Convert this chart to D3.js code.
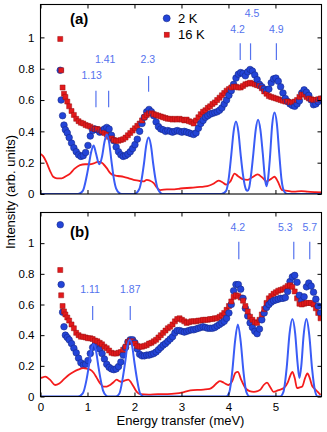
<!DOCTYPE html>
<html><head><meta charset="utf-8">
<script src="https://cdn.jsdelivr.net/npm/d3@7"></script>
<style>
html,body{margin:0;padding:0;background:#fff;}
svg{display:block;font-family:"Liberation Sans",Arial,Helvetica,sans-serif;}
</style></head>
<body><svg id="c" width="327" height="432"></svg>
<script>
// ---- data ----
const energy = [0.42,0.44,0.47,0.50,0.53,0.57,0.61,
0.66,0.71,0.76,0.81,0.86,0.91,0.96,1.01,1.06,1.11,
1.16,1.21,1.26,1.31,1.36,1.41,1.46,1.51,1.56,1.61,
1.66,1.71,1.76,1.81,1.86,1.91,1.96,2.01,2.06,2.11,
2.16,2.21,2.26,2.31,2.36,2.41,2.46,2.51,2.56,2.61,
2.66,2.71,2.76,2.81,2.86,2.91,2.96,3.01,3.06,3.11,
3.16,3.21,3.26,3.31,3.36,3.41,3.46,3.51,3.56,3.61,
3.66,3.71,3.76,3.81,3.86,3.91,3.96,4.01,4.06,4.11,
4.16,4.21,4.26,4.31,4.36,4.41,4.46,4.51,4.56,4.61,
4.66,4.71,4.76,4.81,4.86,4.91,4.96,5.01,5.06,5.11,
5.16,5.21,5.26,5.31,5.36,5.41,5.46,5.51,5.56,5.61,
5.66,5.71,5.76,5.81,5.86,5.91,5.96];

const a2K = [0.79,0.60,0.50,0.44,0.41,0.39,0.36,
0.325,0.295,0.27,0.25,0.24,0.245,0.265,0.31,0.37,0.405,
0.415,0.41,0.395,0.40,0.415,0.425,0.415,0.375,0.34,0.30,
0.27,0.25,0.24,0.245,0.255,0.27,0.29,0.315,0.35,0.40,
0.45,0.49,0.525,0.54,0.525,0.50,0.46,0.43,0.415,0.41,
0.40,0.405,0.40,0.395,0.40,0.405,0.40,0.395,0.40,0.395,
0.39,0.385,0.38,0.39,0.42,0.45,0.47,0.49,0.50,0.51,
0.515,0.52,0.525,0.535,0.55,0.575,0.60,0.63,0.66,0.70,
0.74,0.765,0.775,0.77,0.755,0.78,0.795,0.785,0.76,0.73,
0.70,0.685,0.67,0.66,0.67,0.71,0.735,0.74,0.72,0.685,
0.645,0.61,0.59,0.575,0.565,0.56,0.575,0.595,0.645,0.665,
0.65,0.63,0.60,0.57,0.575,0.59,0.605];

const a16K = [0.99,0.79,0.68,0.64,0.62,0.59,0.56,
0.53,0.505,0.48,0.465,0.455,0.45,0.44,0.435,0.43,0.42,
0.415,0.415,0.41,0.40,0.39,0.38,0.365,0.355,0.345,0.34,
0.34,0.345,0.35,0.36,0.375,0.39,0.405,0.42,0.435,0.45,
0.47,0.49,0.505,0.515,0.515,0.51,0.505,0.50,0.495,0.49,
0.485,0.48,0.48,0.475,0.48,0.475,0.48,0.475,0.47,0.475,
0.465,0.46,0.45,0.47,0.49,0.51,0.525,0.535,0.55,0.56,
0.575,0.585,0.60,0.615,0.63,0.645,0.66,0.67,0.68,0.685,
0.685,0.68,0.68,0.69,0.70,0.705,0.71,0.705,0.70,0.695,
0.69,0.675,0.655,0.64,0.625,0.62,0.615,0.61,0.605,0.60,
0.595,0.59,0.59,0.585,0.585,0.59,0.60,0.62,0.635,0.635,
0.62,0.61,0.605,0.60,0.60,0.605,0.61];

const b2K = [1.12,0.73,0.55,0.455,0.40,0.385,0.37,
0.345,0.315,0.285,0.25,0.22,0.205,0.21,0.235,0.28,0.32,
0.335,0.33,0.31,0.28,0.245,0.21,0.19,0.18,0.175,0.18,
0.195,0.225,0.27,0.32,0.355,0.37,0.37,0.35,0.31,0.275,
0.265,0.265,0.27,0.27,0.275,0.28,0.29,0.305,0.32,0.335,
0.345,0.36,0.375,0.39,0.415,0.43,0.43,0.425,0.42,0.425,
0.43,0.435,0.435,0.44,0.445,0.45,0.455,0.45,0.445,0.445,
0.445,0.45,0.46,0.47,0.48,0.49,0.51,0.545,0.60,0.69,
0.73,0.73,0.70,0.64,0.575,0.525,0.48,0.45,0.425,0.41,
0.44,0.50,0.545,0.58,0.60,0.615,0.625,0.63,0.635,0.64,
0.64,0.645,0.685,0.75,0.78,0.79,0.745,0.66,0.625,0.65,
0.715,0.74,0.72,0.68,0.635,0.59,0.545];

const b16K = [0.825,0.66,0.59,0.555,0.535,0.515,0.495,
0.47,0.445,0.415,0.40,0.39,0.39,0.385,0.38,0.38,0.375,
0.365,0.36,0.35,0.34,0.325,0.315,0.30,0.285,0.28,0.28,
0.285,0.29,0.305,0.325,0.355,0.365,0.36,0.345,0.33,0.325,
0.325,0.33,0.335,0.345,0.35,0.36,0.37,0.385,0.40,0.415,
0.43,0.445,0.455,0.47,0.49,0.505,0.51,0.50,0.49,0.48,
0.485,0.49,0.49,0.49,0.495,0.495,0.50,0.50,0.50,0.505,
0.505,0.51,0.51,0.52,0.53,0.545,0.565,0.59,0.62,0.65,
0.66,0.655,0.645,0.625,0.59,0.555,0.52,0.50,0.485,0.48,
0.50,0.535,0.57,0.61,0.64,0.655,0.67,0.68,0.69,0.695,
0.70,0.71,0.72,0.725,0.715,0.685,0.64,0.605,0.60,0.605,
0.61,0.61,0.61,0.60,0.575,0.545,0.51];

// fitted Gaussian profiles (blue) and 16K-2K difference (red)
const fitAE = [0,0.80,0.90,0.98,1.03,1.08,1.13,1.18,1.25,1.31,1.36,1.41,1.46,1.51,1.56,1.61,1.70,1.75,2.00,2.10,2.15,2.20,2.25,2.30,2.35,2.40,2.45,2.50,2.60,3.85,3.95,4.01,4.06,4.11,4.16,4.21,4.26,4.31,4.36,4.40,4.44,4.48,4.53,4.58,4.63,4.68,4.73,4.78,4.81,4.84,4.88,4.93,4.98,5.03,5.08,5.13,5.18,5.25,5.98];
const fitAI = [0,0,0.02,0.11,0.19,0.27,0.31,0.26,0.19,0.24,0.33,0.38,0.33,0.21,0.10,0.035,0.002,0,0,0.03,0.09,0.19,0.31,0.36,0.31,0.19,0.09,0.03,0,0,0.02,0.11,0.25,0.40,0.463,0.40,0.25,0.12,0.04,0.02,0.04,0.12,0.26,0.41,0.474,0.41,0.26,0.09,0.05,0.09,0.22,0.44,0.52,0.45,0.26,0.09,0.02,0,0];

const diffAE = [0,0.06,0.13,0.20,0.27,0.35,0.45,0.55,0.63,0.72,0.84,0.95,1.05,1.13,1.22,1.27,1.34,1.41,1.48,1.55,1.65,1.77,1.88,1.98,2.08,2.19,2.26,2.33,2.41,2.48,2.55,2.69,2.85,2.98,3.20,3.40,3.55,3.68,3.79,3.87,3.95,4.04,4.13,4.20,4.30,4.40,4.50,4.62,4.72,4.81,4.90,4.98,5.05,5.14,5.25,5.39,5.55,5.68,5.85,5.98];
const diffAI = [0.255,0.24,0.20,0.15,0.11,0.10,0.10,0.115,0.13,0.16,0.185,0.19,0.19,0.195,0.205,0.205,0.19,0.165,0.135,0.12,0.115,0.11,0.10,0.09,0.085,0.08,0.09,0.085,0.07,0.04,0.025,0.03,0.03,0.035,0.04,0.045,0.05,0.065,0.085,0.075,0.06,0.08,0.13,0.115,0.095,0.09,0.105,0.125,0.105,0.08,0.095,0.11,0.08,0.025,0.02,0.015,0.018,0.015,0.012,0.01];

const fitBE = [0,0.80,0.90,0.98,1.03,1.08,1.13,1.18,1.23,1.28,1.33,1.40,1.45,1.60,1.68,1.75,1.80,1.85,1.90,1.95,2.00,2.05,2.12,2.20,3.95,4.02,4.08,4.14,4.20,4.26,4.32,4.38,4.45,5.10,5.17,5.24,5.30,5.36,5.42,5.47,5.51,5.55,5.60,5.66,5.72,5.78,5.84,5.90,5.98];
const fitBI = [0,0,0.02,0.11,0.20,0.30,0.34,0.30,0.20,0.11,0.04,0.005,0,0,0.02,0.12,0.22,0.33,0.37,0.33,0.22,0.12,0.02,0,0,0.03,0.16,0.36,0.47,0.36,0.16,0.03,0,0,0.03,0.19,0.41,0.505,0.41,0.22,0.12,0.20,0.40,0.505,0.40,0.18,0.04,0,0];

const diffBE = [0,0.05,0.10,0.20,0.31,0.40,0.49,0.60,0.70,0.80,0.91,1.00,1.06,1.13,1.20,1.27,1.34,1.41,1.48,1.56,1.62,1.68,1.73,1.80,1.87,1.93,1.98,2.05,2.12,2.30,2.50,2.70,2.90,3.00,3.19,3.47,3.60,3.68,3.76,3.82,3.90,4.00,4.08,4.15,4.20,4.27,4.36,4.45,4.54,4.62,4.68,4.75,4.82,4.89,4.96,5.05,5.18,5.26,5.32,5.36,5.41,5.46,5.52,5.57,5.63,5.68,5.73,5.78,5.82,5.90,5.96];
const diffBI = [0.12,0.125,0.13,0.11,0.075,0.085,0.11,0.14,0.16,0.175,0.185,0.18,0.175,0.155,0.12,0.085,0.065,0.065,0.075,0.095,0.11,0.10,0.095,0.105,0.11,0.09,0.065,0.03,0.015,0.012,0.015,0.015,0.02,0.025,0.04,0.045,0.05,0.065,0.09,0.10,0.09,0.075,0.10,0.155,0.16,0.11,0.055,0.035,0.03,0.035,0.045,0.075,0.09,0.06,0.03,0.04,0.055,0.09,0.14,0.16,0.12,0.055,0.06,0.065,0.12,0.15,0.12,0.07,0.055,0.03,0.01];

const xTicks = [0,1,2,3,4,5];
const yTicks = [0,0.2,0.4,0.6,0.8,1];
const legendLabels = ["2 K","16 K"];
const panelLabels = ["(a)","(b)"];
const peakLabelsA = ["1.13","1.41","2.3","4.2","4.5","4.9"];
const peakLabelsB = ["1.11","1.87","4.2","5.3","5.7"];

// ---- layout (annotation placement, in data units) ----
const annA = { markX:[1.18,1.45,2.30,4.25,4.47,5.02], textX:[1.09,1.375,2.285,4.196,4.50,5.02],
  textY:[0.735,0.837,0.837,1.028,1.132,1.028], y0:[0.554,0.554,0.653,0.856,0.856,0.856], y1:[0.66,0.66,0.753,0.962,0.962,0.962] };
const annB = { markX:[1.11,1.91,4.22,5.39,5.73], textX:[1.055,1.91,4.20,5.21,5.73],
  textY:[0.677,0.677,1.081,1.081,1.081], y0:[0.499,0.499,0.895,0.895,0.895], y1:[0.59,0.59,1.01,1.01,1.01] };

const svg = d3.select("#c");
const BLUE_DOT = "#2344d8", BLUE_EDGE = "#172a8a", RED_SQ = "#e3191c", RED_EDGE = "#9a1010";
const FIT = "#3a5cf6", DIFF = "#f41c1c", ANN = "#5573ee";

const x = d3.scaleLinear().domain([0,5.98]).range([40.5,321.5]);

function panel(cfg){
  const y = d3.scaleLinear().domain([0,cfg.ymax]).range([cfg.bottom,cfg.top]);
  const g = svg.append("g");
  const clipId = "clip"+cfg.id;
  svg.append("clipPath").attr("id",clipId).append("rect")
    .attr("x",x.range()[0]).attr("y",cfg.top).attr("width",x.range()[1]-x.range()[0]).attr("height",cfg.bottom-cfg.top);
  const plot = g.append("g").attr("clip-path",`url(#${clipId})`);

  // interleave the two temperatures point by point (as in the original plot)
  const pts = [];
  energy.forEach((e,i)=>{ pts.push({e, v:cfg.s2[i], t:"2K"}); pts.push({e, v:cfg.s16[i], t:"16K"}); });
  plot.selectAll("path.m").data(pts).join("path")
    .attr("d",d=> d.t==="2K"
      ? d3.symbol(d3.symbolCircle, Math.PI*3.3*3.3)()
      : d3.symbol(d3.symbolSquare, 25)())
    .attr("transform",d=>`translate(${x(d.e)},${y(d.v)})`)
    .attr("fill",d=>d.t==="2K"?BLUE_DOT:RED_SQ)
    .attr("stroke",d=>d.t==="2K"?BLUE_EDGE:RED_EDGE)
    .attr("stroke-width",d=>d.t==="2K"?0.6:0.5);

  const line = d3.line().x(d=>x(d[0])).y(d=>y(d[1])).curve(d3.curveMonotoneX);
  plot.append("path").datum(cfg.diffE.map((e,i)=>[e,cfg.diffI[i]]))
    .attr("d",line).attr("fill","none").attr("stroke",DIFF).attr("stroke-width",1.8);
  plot.append("path").datum(cfg.fitE.map((e,i)=>[e,cfg.fitI[i]]))
    .attr("d",line).attr("fill","none").attr("stroke",FIT).attr("stroke-width",2);

  // axes: inward ticks on all four sides
  const left = d3.axisLeft(y).tickValues(yTicks).tickSize(-4).tickPadding(6).tickFormat(d3.format("~g"));
  const right = d3.axisRight(y).tickValues(yTicks).tickSize(-4).tickFormat("");
  const bottom = d3.axisBottom(x).tickValues(xTicks).tickSize(-4).tickPadding(6).tickFormat(cfg.xlabels ? d3.format("d") : "");
  const topAx = d3.axisTop(x).tickValues(xTicks).tickSize(-4).tickFormat("");
  const style = s => { s.select(".domain").remove(); s.selectAll("line").attr("stroke","#000").attr("stroke-width",1);
    s.selectAll("text").attr("fill","#000").style("font-size","11.5px").style("font-family","'Liberation Sans',Arial,sans-serif"); };
  g.append("g").attr("transform",`translate(${x.range()[0]},0)`).call(left).call(style);
  g.append("g").attr("transform",`translate(${x.range()[1]},0)`).call(right).call(style);
  g.append("g").attr("transform",`translate(0,${cfg.bottom})`).call(bottom).call(style);
  g.append("g").attr("transform",`translate(0,${cfg.top})`).call(topAx).call(style);
  g.append("rect").attr("x",x.range()[0]).attr("y",cfg.top).attr("width",x.range()[1]-x.range()[0])
    .attr("height",cfg.bottom-cfg.top).attr("fill","none").attr("stroke","#000").attr("stroke-width",1.1);

  // panel label
  g.append("text").attr("x",70).attr("y",cfg.top+cfg.labelDy).text(cfg.label)
    .style("font-weight","bold").style("font-size","15px").attr("fill","#000");

  // peak annotations
  const ann = cfg.ann;
  cfg.peaks.forEach((p,i)=>{
    g.append("line").attr("x1",x(ann.markX[i])).attr("x2",x(ann.markX[i]))
      .attr("y1",y(ann.y0[i])).attr("y2",y(ann.y1[i])).attr("stroke",ANN).attr("stroke-width",1.2);
    g.append("text").attr("x",x(ann.textX[i])).attr("y",y(ann.textY[i])).attr("text-anchor","middle")
      .style("font-size","10.5px").attr("fill",ANN).text(p);
  });
  return y;
}

panel({id:"a", top:4.5, bottom:194, ymax:1.21, s2:a2K, s16:a16K, fitE:fitAE, fitI:fitAI, diffE:diffAE, diffI:diffAI,
  xlabels:false, label:panelLabels[0], labelDy:19, peaks:peakLabelsA, ann:annA});
panel({id:"b", top:212.5, bottom:396.5, ymax:1.2, s2:b2K, s16:b16K, fitE:fitBE, fitI:fitBI, diffE:diffBE, diffI:diffBI,
  xlabels:true, label:panelLabels[1], labelDy:24, peaks:peakLabelsB, ann:annB});

// legend (panel a)
const leg = svg.append("g");
leg.append("circle").attr("cx",166.7).attr("cy",18.3).attr("r",3.5).attr("fill",BLUE_DOT).attr("stroke",BLUE_EDGE).attr("stroke-width",0.6);
leg.append("rect").attr("x",164.2).attr("y",32.2).attr("width",5).attr("height",5).attr("fill",RED_SQ).attr("stroke",RED_EDGE).attr("stroke-width",0.5);
leg.append("text").attr("x",178).attr("y",22.7).text(legendLabels[0]).style("font-size","13px");
leg.append("text").attr("x",178).attr("y",39).text(legendLabels[1]).style("font-size","13px");

// axis titles
svg.append("text").attr("x",180.5).attr("y",424.5).attr("text-anchor","middle").style("font-size","13px").text("Energy transfer (meV)");
svg.append("text").attr("transform","translate(14.5,192) rotate(-90)").attr("text-anchor","middle").style("font-size","13px").text("Intensity (arb. units)");
</script></body></html>
